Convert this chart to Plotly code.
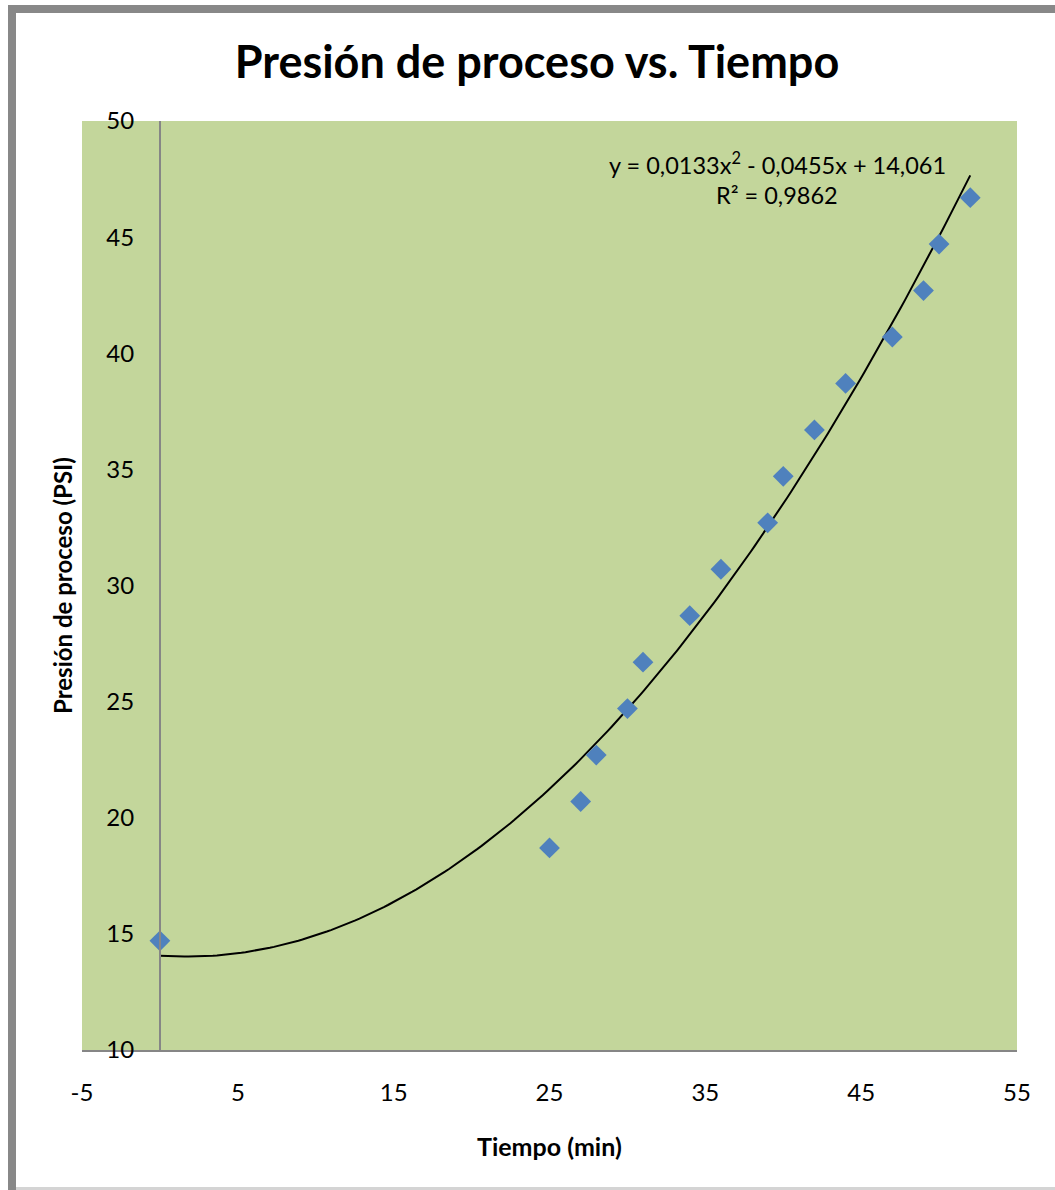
import numpy as np
import plotly.graph_objects as go

# Data
tiempo = [0, 25, 27, 28, 30, 31, 34, 36, 39, 40, 42, 44, 47, 49, 50, 52]
presion = [14.7, 18.7, 20.7, 22.7, 24.7, 26.7, 28.7, 30.7, 32.7, 34.7, 36.7, 38.7, 40.7, 42.7, 44.7, 46.7]
trend_coef = [0.0133, -0.0455, 14.061]  # displayed polynomial trendline
x_ticks = [-5, 5, 15, 25, 35, 45, 55]
x_ticktext = ["-5", "5", "15", "25", "35", "45", "55"]
y_ticks = [10, 15, 20, 25, 30, 35, 40, 45, 50]

W, H = 1055, 1190
L, R, T, B = 82, 1017, 121, 1050

def px(x):
    return (x - L) / (R - L)

def py(y):
    return (B - y) / (B - T)

tx = np.linspace(0, 52, 200)
ty = np.polyval(trend_coef, tx)

font = "Lato, 'Open Sans', sans-serif"

fig = go.Figure()
fig.add_trace(go.Scatter(x=tx, y=ty, mode="lines",
                         line=dict(color="black", width=2), hoverinfo="skip",
                         showlegend=False))
fig.add_trace(go.Scatter(x=tiempo, y=presion, mode="markers",
                         marker=dict(symbol="diamond", size=16, color="#4F81BD"),
                         showlegend=False))

fig.update_layout(
    width=W, height=H,
    margin=dict(l=L, r=W - R, t=T, b=H - B),
    paper_bgcolor="white",
    plot_bgcolor="#C3D69B",
    font=dict(family=font, color="black", size=24),
    title=dict(text="<b>Presión de proceso vs. Tiempo</b>", xref="paper", x=px(537),
               xanchor="center", y=1 - 62 / H, yanchor="middle",
               font=dict(size=45, family=font)),
    xaxis=dict(range=[-5, 55], tickvals=x_ticks, ticktext=x_ticktext,
               showgrid=False, zeroline=False,
               showline=True, linecolor="#868686", linewidth=2,
               ticks="outside", ticklen=20, tickcolor="rgba(0,0,0,0)",
               tickfont=dict(size=24)),
    yaxis=dict(range=[10, 50], tickvals=y_ticks, showgrid=False, zeroline=False,
               anchor="free", position=5 / 60,
               showline=True, linecolor="#868686", linewidth=2,
               ticks="outside", ticklen=20, tickcolor="rgba(0,0,0,0)",
               tickfont=dict(size=24)),
    shapes=[
        dict(type="rect", xref="paper", yref="paper",
             x0=px(8), x1=px(1060), y0=py(5), y1=py(13),
             fillcolor="#888888", line=dict(width=0), layer="above"),
        dict(type="rect", xref="paper", yref="paper",
             x0=px(8), x1=px(16), y0=py(5), y1=py(1192),
             fillcolor="#888888", line=dict(width=0), layer="above"),
        dict(type="rect", xref="paper", yref="paper",
             x0=px(16), x1=px(1060), y0=py(1187), y1=py(1192),
             fillcolor="#D4D4D4", line=dict(width=0), layer="above"),
    ],
    annotations=[
        dict(xref="paper", yref="paper", x=px(62), y=py(586), text="<b>Presión de proceso (PSI)</b>",
             textangle=-90, showarrow=False, font=dict(size=24), xanchor="center", yanchor="middle"),
        dict(xref="paper", yref="paper", x=px(549), y=py(1146),
             text="<b>Tiempo (min)</b>", showarrow=False,
             font=dict(size=25), xanchor="center", yanchor="middle"),
        dict(xref="paper", yref="paper", x=px(777), y=py(163),
             text="y = 0,0133x<sup>2</sup> - 0,0455x + 14,061", showarrow=False,
             font=dict(size=23.5), xanchor="center", yanchor="middle"),
        dict(xref="paper", yref="paper", x=px(777), y=py(195),
             text="R² = 0,9862", showarrow=False,
             font=dict(size=23.5), xanchor="center", yanchor="middle"),
    ],
)

fig.write_html("out.html")
